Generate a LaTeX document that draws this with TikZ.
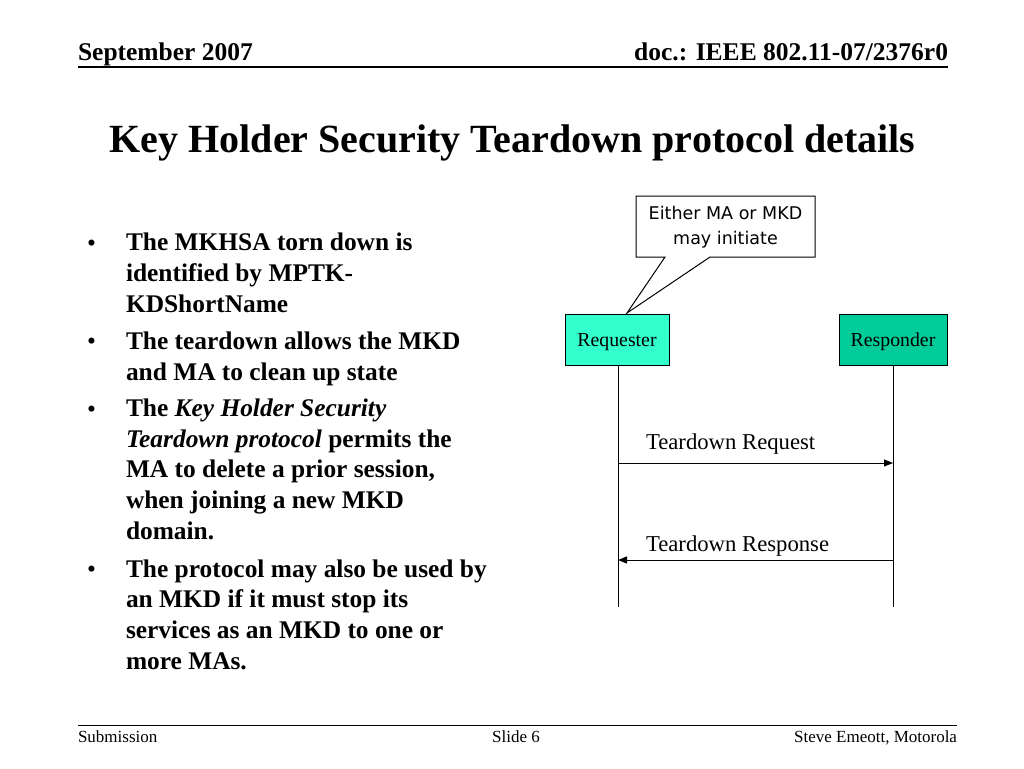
\documentclass[tikz,border=0pt]{standalone}
\usepackage{fontspec}
\setmainfont{Liberation Serif}
\newfontfamily\calloutfont{DejaVu Sans}
\usetikzlibrary{arrows.meta}
\begin{document}
\begin{tikzpicture}[x=1pt,y=-1pt,
  every node/.style={inner sep=0pt, outer sep=0pt},
  hdr/.style={font=\fontsize{25.5}{28}\selectfont\bfseries, anchor=base west},
  bul/.style={font=\fontsize{25.4}{30.6}\selectfont\bfseries, anchor=base west, align=left},
  dot/.style={font=\fontsize{25.4}{30.6}\selectfont, anchor=base west},
  actor/.style={draw=black, line width=1pt, minimum width=104pt, minimum height=51pt, text height=13pt, text depth=0pt, font=\fontsize{19.8}{22}\selectfont},
  msg/.style={font=\fontsize{22.7}{26}\selectfont, anchor=base west},
  ftr/.style={font=\fontsize{17}{20}\selectfont, anchor=base},
  life/.style={line width=1pt},
  arr/.style={line width=1pt, -{Triangle[length=9pt,width=7pt]}}
]
\useasboundingbox (0,0) rectangle (1024,768);
\fill[white] (0,0) rectangle (1024,768);

% header
\node[hdr] (hleft) at (78,60) {September 2007};
\node[hdr, anchor=base east] (hright) at (948,60) {doc.: IEEE 802.11-07/2376r0};
\coordinate (hl1) at (78,67);
\coordinate (hl2) at (948,67);
\draw[line width=1.5pt] (hl1) -- (hl2);

% title
\node[font=\fontsize{40}{44}\selectfont\bfseries, anchor=base] (title) at (512.5,152) {Key Holder Security Teardown protocol details};

% bullets
\node[dot] (d1) at (87,251) {•};
\node[bul] (b1) at (126,312) {The MKHSA torn down is\\identified by MPTK-\\KDShortName};
\node[dot] (d2) at (87,349) {•};
\node[bul] (b2) at (126,380) {The teardown allows the MKD\\and MA to clean up state};
\node[dot] (d3) at (87,417) {•};
\node[bul] (b3) at (126,539) {The \textit{Key Holder Security}\\\textit{Teardown protocol} permits the\\MA to delete a prior session,\\when joining a new MKD\\domain.};
\node[dot] (d4) at (87,577) {•};
\node[bul] (b4) at (126,669) {The protocol may also be used by\\an MKD if it must stop its\\services as an MKD to one or\\more MAs.};

% actors
\node[actor, fill={rgb,255:red,51;green,255;blue,204}] (req) at (617,340) {Requester};
\node[actor, fill={rgb,255:red,0;green,204;blue,153}, minimum width=108pt] (resp) at (893,340) {Responder};

% callout
\coordinate (tip) at (627,313);
\draw[line width=1pt, fill=white] (636,196) -- (815,196) -- (815,257) -- (710,257) -- (tip) -- (665,257) -- (636,257) -- cycle;
\node[font=\calloutfont\fontsize{17.5}{25}\selectfont, align=center] (callout) at (725.5,227) {Either MA or MKD\\may initiate};

% lifelines
\coordinate (reqend) at (618,607);
\coordinate (respend) at (893,607);
\draw[life] (req.south -| reqend) -- (reqend);
\draw[life] (resp.south -| respend) -- (respend);

% messages
\coordinate (m1a) at (618,463);
\coordinate (m1b) at (893,463);
\coordinate (m2a) at (893,560);
\coordinate (m2b) at (618,560);
\draw[arr] (m1a) -- (m1b);
\draw[arr] (m2a) -- (m2b);
\node[msg] (l1) at (646,449) {Teardown Request};
\node[msg] (l2) at (646,551) {Teardown Response};

% footer
\coordinate (fl1) at (78,725);
\coordinate (fl2) at (957,725);
\draw[line width=1pt] (fl1) -- (fl2);
\node[ftr, anchor=base west] (f1) at (78,742) {Submission};
\node[ftr] (f2) at (516,742) {Slide 6};
\node[ftr, anchor=base east] (f3) at (957,742) {Steve Emeott, Motorola};
\end{tikzpicture}
\end{document}
